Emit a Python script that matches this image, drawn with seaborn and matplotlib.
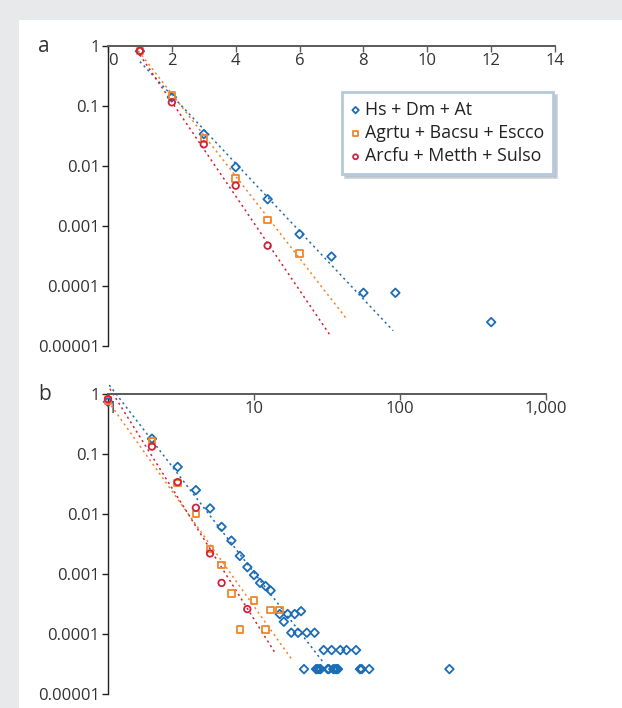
import matplotlib.pyplot as plt
import numpy as np
import pandas as pd
import seaborn as sns
from matplotlib.patches import Rectangle

# ---- panel a (linear x) ----
a_hs_x = [1, 2, 3, 4, 5, 6, 7, 8, 9, 12]
a_hs_y = [0.82, 0.14, 0.034, 0.0096, 0.0028, 0.00073, 0.00031, 0.000077, 0.000077, 0.000025]
a_bac_x = [1, 2, 3, 4, 5, 6]
a_bac_y = [0.82, 0.149, 0.029, 0.0062, 0.00126, 0.00035]
a_arc_x = [1, 2, 3, 4, 5]
a_arc_y = [0.83, 0.115, 0.023, 0.0047, 0.00047]
# fitted lines (end points)
a_fit_hs = ([1.0, 8.93], [0.55, 1.8e-5])
a_fit_bac = ([0.95, 7.48], [0.83, 2.8e-5])
a_fit_arc = ([0.9, 6.96], [0.85, 1.5e-5])

# ---- panel b (log x) ----
b_hs_x = [1, 2, 3, 4, 5, 6, 7, 8, 9, 10, 11, 12, 13,
          15, 16, 17, 19, 21,
          18, 20, 23, 26,
          30, 34, 39, 43, 50,
          22, 26.6, 27.1, 27.9, 28.6, 32, 32.6, 34.9, 35.9, 36.8, 37.6, 53.2, 54.7, 61.6, 218]
b_hs_y = [0.74, 0.18, 0.061, 0.025, 0.0124, 0.0061, 0.0036, 0.0020, 0.0013, 0.00096, 0.00071, 0.00063, 0.00053,
          0.000215, 0.00016, 0.000215, 0.000215, 0.00024,
          0.000105, 0.000105, 0.000105, 0.000105,
          0.000054, 0.000054, 0.000054, 0.000054, 0.000054,
          0.000026, 0.000026, 0.000026, 0.000026, 0.000026, 0.000026, 0.000026, 0.000026, 0.000026,
          0.000026, 0.000026, 0.000026, 0.000026, 0.000026, 0.000026]
b_bac_x = [1, 2, 3, 4, 5, 6, 7, 8, 10, 12, 13, 15]
b_bac_y = [0.78, 0.165, 0.033, 0.0100, 0.0026, 0.0014, 0.00047, 0.00012, 0.00036, 0.00012, 0.00025, 0.00025]
b_arc_x = [1, 2, 3, 4, 5, 6, 9]
b_arc_y = [0.82, 0.133, 0.034, 0.0127, 0.0022, 0.00071, 0.00026]
b_fit_hs = ([1.02, 30.3], [1.41, 3.2e-5])
b_fit_bac = ([1.0, 18.1], [0.76, 3.8e-5])
b_fit_arc = ([1.03, 13.9], [1.22, 4.9e-5])

labels = ['Hs + Dm + At', 'Agrtu + Bacsu + Escco', 'Arcfu + Metth + Sulso']
colors = ['#1c6db5', '#f0862c', '#d3213b']
markers = ['D', 's', 'o']
sizes = [19, 22, 22]

y_ticks = [1, 0.1, 0.01, 0.001, 0.0001, 0.00001]
y_labels = ['1', '0.1', '0.01', '0.001', '0.0001', '0.00001']
a_xticks = [0, 2, 4, 6, 8, 10, 12, 14]
b_xticks = [1, 10, 100, 1000]
b_xlabels = ['1', '10', '100', '1,000']

sns.set_theme(style='white')
plt.rcParams['font.family'] = ['Open Sans', 'DejaVu Sans']
plt.rcParams['text.color'] = '#333333'

fig = plt.figure(figsize=(6.22, 7.08), dpi=100, facecolor='#e8e9eb')
fig.add_artist(Rectangle((19 / 622, 0), 1, (708 - 20) / 708, transform=fig.transFigure,
                         facecolor='white', edgecolor='none', zorder=0))

ax_a = fig.add_axes([108 / 622, (708 - 346) / 708, 447 / 622, 300 / 708])
ax_b = fig.add_axes([108 / 622, (708 - 694) / 708, 438 / 622, 300 / 708])


def draw(ax, series, fits):
    handles = []
    for (xs, ys), (fx, fy), c, m, s, lab in zip(series, fits, colors, markers, sizes, labels):
        sns.lineplot(x=fx, y=fy, ax=ax, color=c, lw=1.1, linestyle=(0, (1.4, 2.2)),
                     clip_on=False, zorder=2)
        sns.scatterplot(x=xs, y=ys, ax=ax, marker=m, s=s, color=c, facecolor='none',
                        edgecolor=c, linewidth=1.3, zorder=3, clip_on=False)
        handles.append(ax.collections[-1])
    ax.set_facecolor('none')
    ax.set_yscale('log')
    ax.set_ylim(1e-5, 1)
    ax.set_yticks(y_ticks, y_labels)
    ax.minorticks_off()
    ax.spines['bottom'].set_position(('axes', 1.0))
    ax.spines['bottom'].set_color('#5a5a5a')
    ax.spines['bottom'].set_linewidth(1.4)
    ax.spines['left'].set_color('#222222')
    ax.spines['left'].set_linewidth(1.0)
    ax.spines['top'].set_visible(False)
    ax.spines['right'].set_visible(False)
    ax.tick_params(axis='x', bottom=True, direction='out', length=4, width=1,
                   color='#5a5a5a', labelsize=12, labelcolor='#333333', pad=1)
    ax.tick_params(axis='y', left=True, direction='out', length=4, width=1,
                   color='#222222', labelsize=12, labelcolor='#333333', pad=2)
    ax.set_xlabel('')
    ax.set_ylabel('')
    return handles


h = draw(ax_a, [(a_hs_x, a_hs_y), (a_bac_x, a_bac_y), (a_arc_x, a_arc_y)],
         [a_fit_hs, a_fit_bac, a_fit_arc])
ax_a.set_xlim(0, 14)
ax_a.set_xticks(a_xticks, [str(t) for t in a_xticks])
ax_a.get_xticklabels()[0].set_ha('left')

draw(ax_b, [(b_hs_x, b_hs_y), (b_bac_x, b_bac_y), (b_arc_x, b_arc_y)],
     [b_fit_hs, b_fit_bac, b_fit_arc])
ax_b.set_xscale('log')
ax_b.set_xlim(1, 1000)
ax_b.set_xticks(b_xticks, b_xlabels)
ax_b.minorticks_off()
ax_b.get_xticklabels()[0].set_ha('left')

leg = ax_a.legend(h, labels, loc='upper left', bbox_to_anchor=(0.524, 0.847),
                  frameon=True, fancybox=False, fontsize=12.8, markerscale=0.75,
                  handlelength=0.5, handletextpad=0.3, labelspacing=0.3,
                  borderpad=0.5, borderaxespad=0,
                  shadow={'color': '#a3aebd'})
leg.get_frame().set_edgecolor('#b5c9de')
leg.get_frame().set_linewidth(2)
for t in leg.get_texts():
    t.set_color('#222222')

fig.text(38 / 622, 1 - 46 / 708, 'a', fontsize=15, va='center', ha='left', color='#333333')
fig.text(38 / 622, 1 - 394 / 708, 'b', fontsize=15, va='center', ha='left', color='#333333')

fig.savefig('out.png', dpi=100, facecolor=fig.get_facecolor())
